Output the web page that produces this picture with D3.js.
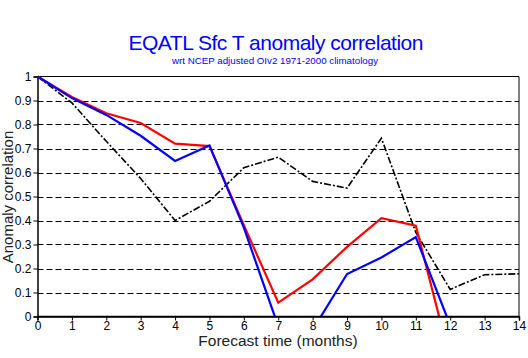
<!DOCTYPE html>
<html>
<head>
<meta charset="utf-8">
<script src="https://cdn.jsdelivr.net/npm/d3@7"></script>
<style>
  html, body { margin: 0; padding: 0; background: #fff; }
  svg { display: block; font-family: "Liberation Sans", Arial, sans-serif; }
</style>
</head>
<body>
<svg id="chart" width="528" height="358"></svg>
<script>
// Forecast lead time in months
const months = [0, 1, 2, 3, 4, 5, 6, 7, 8, 9, 10, 11, 12, 13, 14];
// Anomaly correlation by lead month
const redSeries   = [1.0, 0.915, 0.847, 0.806, 0.72, 0.71, 0.38, 0.058, 0.155, 0.29, 0.41, 0.378, -0.18];
const blueSeries  = [1.0, 0.91, 0.84, 0.753, 0.648, 0.713, 0.37, -0.041, -0.056, 0.177, 0.246, 0.331, -0.037];
const blackSeries = [1.0, 0.89, 0.73, 0.575, 0.40, 0.48, 0.62, 0.664, 0.563, 0.535, 0.743, 0.35, 0.113, 0.174, 0.178];
const yTicks = [0, 0.1, 0.2, 0.3, 0.4, 0.5, 0.6, 0.7, 0.8, 0.9, 1];
const gridValues = [0.1, 0.2, 0.3, 0.4, 0.5, 0.6, 0.7, 0.8, 0.9];

const svg = d3.select("#chart");
const plotLeft = 37.5, plotRight = 519, plotTop = 76.5, plotBottom = 316.5;

const x = d3.scaleLinear().domain([0, 14]).range([plotLeft, plotRight]);
const y = d3.scaleLinear().domain([0, 1]).range([plotBottom, plotTop]);

// Titles
svg.append("text").attr("x", 276).attr("y", 50).attr("text-anchor", "middle")
  .attr("font-size", 21).attr("fill", "#0000ff").attr("textLength", 295)
  .text("EQATL Sfc T anomaly correlation");
svg.append("text").attr("x", 275).attr("y", 64).attr("text-anchor", "middle")
  .attr("font-size", 9).attr("fill", "#0000ff").attr("textLength", 206)
  .attr("lengthAdjust", "spacingAndGlyphs")
  .text("wrt NCEP adjusted OIv2 1971-2000 climatology");

// Dashed horizontal grid
svg.append("g").selectAll("line").data(gridValues).join("line")
  .attr("x1", plotLeft).attr("x2", plotRight)
  .attr("y1", d => Math.round(y(d)) + 0.5).attr("y2", d => Math.round(y(d)) + 0.5)
  .attr("stroke", "#000").attr("stroke-width", 1).attr("stroke-dasharray", "6,3");

// Frame: top and right edges
svg.append("line").attr("x1", plotLeft).attr("x2", plotRight).attr("y1", plotTop).attr("y2", plotTop)
  .attr("stroke", "#000").attr("stroke-width", 1);
svg.append("line").attr("x1", plotRight).attr("x2", plotRight).attr("y1", plotTop).attr("y2", plotBottom)
  .attr("stroke", "#000").attr("stroke-width", 1);

// Axes
const xAxis = d3.axisBottom(x).tickValues(months).tickSize(4).tickPadding(1).tickFormat(d3.format("d"));
const yAxis = d3.axisLeft(y).tickValues(yTicks).tickSize(4).tickPadding(2)
  .tickFormat(d => d === 0 || d === 1 ? String(d) : d3.format(".1f")(d));

const gx = svg.append("g").attr("transform", `translate(0,${plotBottom})`).call(xAxis);
const gy = svg.append("g").attr("transform", `translate(${plotLeft},0)`).call(yAxis);
[gx, gy].forEach(g => {
  g.select(".domain").attr("stroke", "#000").attr("stroke-width", 1.5);
  g.selectAll(".tick line").attr("stroke", "#000");
  g.selectAll(".tick text").attr("font-size", 12).attr("fill", "#000")
    .attr("font-family", "\"Liberation Sans\", Arial, sans-serif");
});

// Axis titles
svg.append("text").attr("x", 278).attr("y", 346).attr("text-anchor", "middle")
  .attr("font-size", 15.5).attr("fill", "#222").text("Forecast time (months)");
svg.append("text").attr("transform", "translate(13,197) rotate(-90)").attr("text-anchor", "middle")
  .attr("font-size", 15).attr("fill", "#222").text("Anomaly correlation");

// Clip lines to the plotting frame
svg.append("clipPath").attr("id", "plotClip").append("rect")
  .attr("x", plotLeft).attr("y", plotTop - 2).attr("width", plotRight - plotLeft).attr("height", plotBottom - plotTop + 2);

const line = d3.line().x((d, i) => x(months[i])).y(d => y(d));
const plot = svg.append("g").attr("clip-path", "url(#plotClip)");

plot.append("path").datum(blackSeries).attr("d", line).attr("fill", "none")
  .attr("stroke", "#000").attr("stroke-width", 1.6).attr("stroke-dasharray", "7,2,2,2");
plot.append("path").datum(redSeries).attr("d", line).attr("fill", "none")
  .attr("stroke", "#ff0000").attr("stroke-width", 2.2);
plot.append("path").datum(blueSeries).attr("d", line).attr("fill", "none")
  .attr("stroke", "#0000ff").attr("stroke-width", 2.2);

// Redraw the bottom axis line above the data
svg.append("line").attr("x1", plotLeft).attr("x2", plotRight).attr("y1", plotBottom).attr("y2", plotBottom)
  .attr("stroke", "#000").attr("stroke-width", 1.5);
</script>
</body>
</html>
